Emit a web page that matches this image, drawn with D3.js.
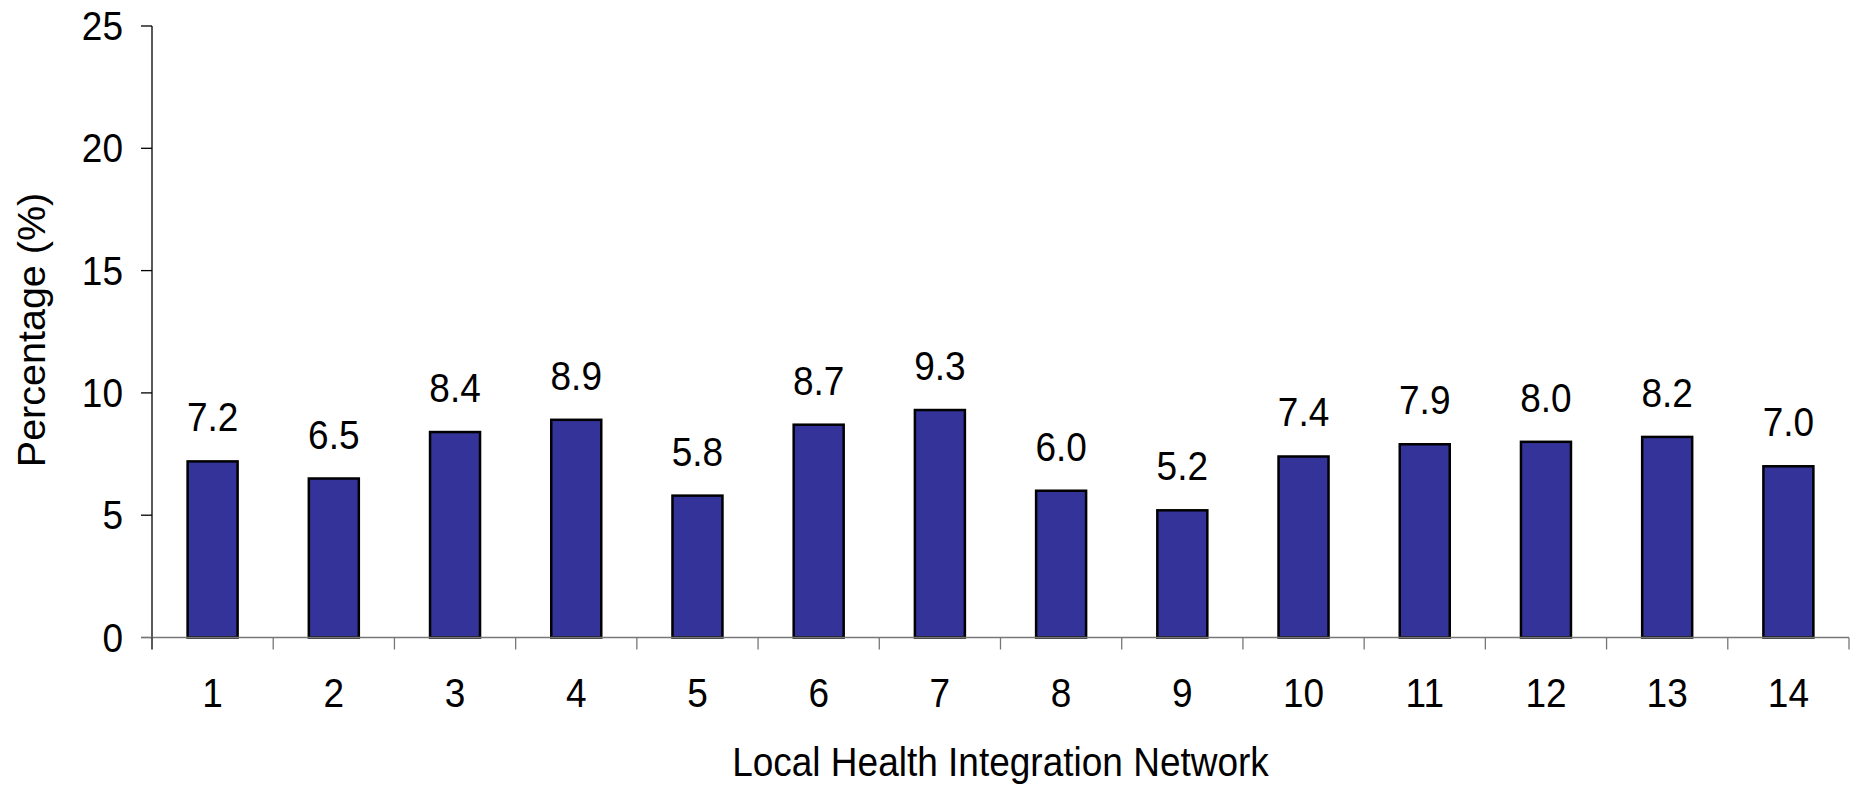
<!DOCTYPE html>
<html><head><meta charset="utf-8">
<script src="https://cdn.jsdelivr.net/npm/d3@7"></script>
<style>body{margin:0;background:#fff}svg{display:block}text{font-family:"Liberation Sans",Arial,sans-serif;fill:#000}</style>
</head><body>
<svg id="c" width="1853" height="786"></svg>
<script>
const categories = ["1","2","3","4","5","6","7","8","9","10","11","12","13","14"];
const values = [7.2,6.5,8.4,8.9,5.8,8.7,9.3,6.0,5.2,7.4,7.9,8.0,8.2,7.0];
const yTicks = [0,5,10,15,20,25];
const xTitle = "Local Health Integration Network";
const yTitle = "Percentage (%)";

const svg = d3.select("#c");
const mLeft = 152, mRight = 1849, mTop = 26, mBottom = 637.5;
const fs = 37, sy = 1.08;
const x = d3.scaleBand().domain(categories).range([mLeft, mRight]);
const y = d3.scaleLinear().domain([0,25]).range([mBottom, mTop]);
const barW = 50;

function txt(g, xx, yy, s, anchor){
  return g.append("text").attr("transform", `translate(${xx},${yy}) scale(1,${sy})`)
    .attr("text-anchor", anchor).attr("font-size", fs).text(s);
}

// y axis
const ya = svg.append("g");
ya.append("line").attr("x1", mLeft).attr("x2", mLeft).attr("y1", y(25)).attr("y2", y(0)).attr("stroke","#000").attr("stroke-width",1.3);
yTicks.forEach(t=>{
  ya.append("line").attr("x1", mLeft-11).attr("x2", mLeft).attr("y1", y(t)).attr("y2", y(t)).attr("stroke", t===0?"#777":"#000").attr("stroke-width",1.3);
  txt(ya, mLeft-29, y(t)+14, String(t), "end");
});

// bars
svg.append("g").selectAll("rect").data(values).join("rect")
  .attr("x",(d,i)=>x(categories[i]) + (x.bandwidth()-barW)/2)
  .attr("y", d=>y(d)).attr("width", barW).attr("height", d=>y(0)-y(d))
  .attr("fill","#333399").attr("stroke","#000").attr("stroke-width",2.5);

// value labels
const vl = svg.append("g");
values.forEach((d,i)=>txt(vl, x(categories[i])+x.bandwidth()/2, y(d)-30, d.toFixed(1), "middle"));

// x axis
const xa = svg.append("g");
xa.append("line").attr("x1", mLeft-11).attr("x2", mRight).attr("y1", mBottom).attr("y2", mBottom).attr("stroke","#777").attr("stroke-width",1.3);
categories.forEach((c,i)=>{
  xa.append("line").attr("x1", x(c)).attr("x2", x(c)).attr("y1", mBottom).attr("y2", mBottom+12).attr("stroke", i===0?"#000":"#777").attr("stroke-width",1.3);
  txt(xa, x(c)+x.bandwidth()/2, 707, c, "middle");
});
xa.append("line").attr("x1", mRight).attr("x2", mRight).attr("y1", mBottom).attr("y2", mBottom+12).attr("stroke","#777").attr("stroke-width",1.3);

// titles
txt(svg, (mLeft+mRight)/2, 776, xTitle, "middle");
svg.append("text").attr("transform","translate(45,330) rotate(-90)")
  .attr("text-anchor","middle").attr("font-size",39.5).text(yTitle);
</script>
</body></html>
